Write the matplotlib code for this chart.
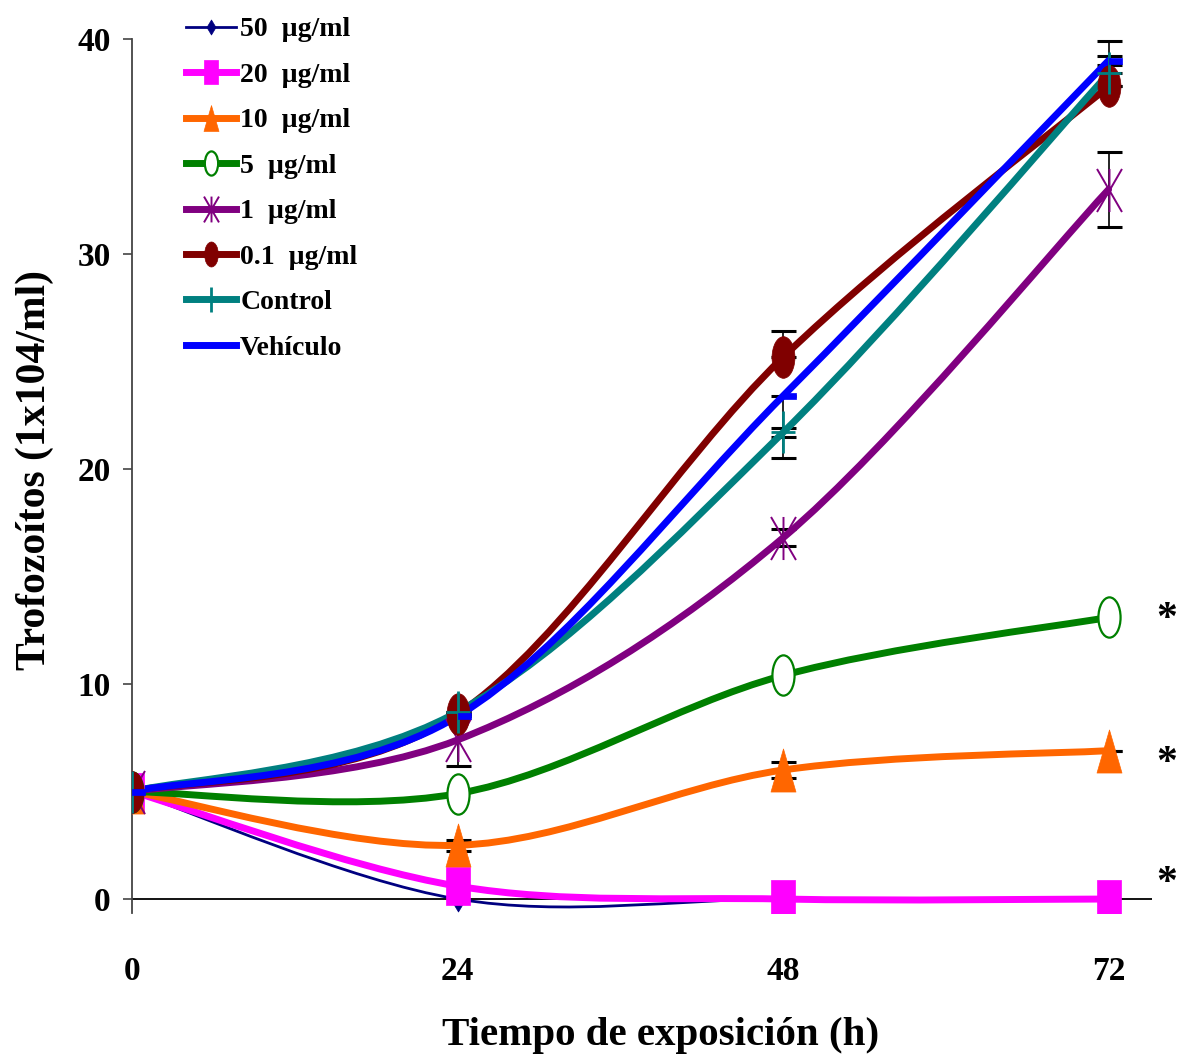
import numpy as np
import matplotlib
matplotlib.use("Agg")
import matplotlib.pyplot as plt
from matplotlib.path import Path
from matplotlib.patches import PathPatch
from matplotlib.lines import Line2D
from matplotlib.transforms import Affine2D

plt.rcParams['font.family'] = ['Liberation Serif', 'DejaVu Serif']
plt.rcParams['font.weight'] = 'bold'

# data
hours = [0, 24, 48, 72]
labels = ['50  µg/ml', '20  µg/ml', '10  µg/ml', '5  µg/ml', '1  µg/ml',
          '0.1  µg/ml', 'Control', 'Vehículo']
c50 = [5.0, 0.0, 0.0, 0.0]
c20 = [5.0, 0.6, 0.0, 0.0]
c10 = [5.0, 2.5, 6.0, 6.9]
c5 = [5.0, 4.9, 10.4, 13.1]
c1 = [5.0, 7.4, 16.8, 33.0]
c01 = [5.0, 8.6, 25.2, 37.8]
control = [5.0, 8.7, 21.7, 38.4]
vehiculo = [5.0, 8.5, 23.4, 39.0]
# error bars that can be seen: (lower, upper)
e50 = ([0, 0, 0, 0], [0, 0, 0, 0])
e20 = ([0, 0, 0, 0], [0, 0, 0, 0])
e10 = ([0, 0.25, 0.35, 0], [0, 0.25, 0.35, 0])
e5 = ([0, 0, 0, 0], [0, 0, 0, 0])
e1 = ([0, 1.2, 0.4, 1.75], [0, 1.2, 0.4, 1.75])
e01 = ([0, 0, 0, 0], [0, 0, 1.2, 0])
econtrol = ([0, 0, 0.2, 0], [0, 0, 0.2, 1.5])
evehiculo = ([0, 0, 2.9, 0.2], [0, 0, 0, 0.2])
star_y = [13.0, 6.3, 0.7]

series = [c50, c20, c10, c5, c1, c01, control, vehiculo]
errors = [e50, e20, e10, e5, e1, e01, econtrol, evehiculo]
colors = ['#000080', '#FF00FF', '#FF6600', '#008000', '#800080', '#800000',
          '#008080', '#0000FF']
widths = [2.0, 5, 5, 5, 5, 5, 5, 5]


# marker shapes (tall, like the stretched Excel markers)
def poly(pts):
    pts = list(pts) + [pts[0]]
    codes = [Path.MOVETO] + [Path.LINETO] * (len(pts) - 2) + [Path.CLOSEPOLY]
    return Path(pts, codes)


ellipse = Path.unit_circle().transformed(Affine2D().scale(0.55, 1.0))
diamond = poly([(0, 1), (0.6, 0), (0, -1), (-0.6, 0)])
square = poly([(-0.62, -1), (0.62, -1), (0.62, 1), (-0.62, 1)])
triangle = poly([(0, 1), (0.58, -1), (-0.58, -1)])
star = Path([(0, -1), (0, 1), (-0.58, -1), (0.58, 1), (-0.58, 1), (0.58, -1)],
            [Path.MOVETO, Path.LINETO] * 3)
plus = Path([(-0.6, 0), (0.6, 0), (0, -1), (0, 1)], [Path.MOVETO, Path.LINETO] * 2)
dash = poly([(0, -0.23), (1, -0.23), (1, 0.23), (0, 0.23)])

mstyles = [
    dict(marker=diamond, ms=18, mfc='#000080', mec='#000080', mew=0.5),
    dict(marker=square, ms=28, mfc='#FF00FF', mec='#FF00FF', mew=0.5),
    dict(marker=triangle, ms=31, mfc='#FF6600', mec='#FF6600', mew=0.5),
    dict(marker=ellipse, ms=29, mfc='white', mec='#008000', mew=1.6),
    dict(marker=star, ms=31, mfc='none', mec='#800080', mew=1.4),
    dict(marker=ellipse, ms=30, mfc='#800000', mec='#800000', mew=0.5),
    dict(marker=plus, ms=30, mfc='none', mec='#008080', mew=2.0),
    dict(marker=dash, ms=19, mfc='#0000FF', mec='#0000FF', mew=0.5),
]


def smooth_path(x, y):
    # Bezier curve through the points (Excel style smoothed line)
    p = np.column_stack([x, y]).astype(float)
    ext = np.vstack([p[0], p, p[-1]])
    verts = [p[0]]
    codes = [Path.MOVETO]
    for i in range(len(p) - 1):
        a, b, c, d = ext[i], ext[i + 1], ext[i + 2], ext[i + 3]
        verts += [b + (c - a) / 6, c - (d - b) / 6, c]
        codes += [Path.CURVE4] * 3
    return Path(verts, codes)


fig = plt.figure(figsize=(11.78, 10.58), dpi=100)
ax = fig.add_axes([132 / 1178, 145 / 1058, 1020 / 1178, 874 / 1058])
ax.set_xlim(0, 75.2)
ax.set_ylim(-0.65, 40)

ax.axhline(0, color='black', lw=1.3, zorder=1)

handles = []
for vals, err, col, lw, ms, lab in zip(series, errors, colors, widths, mstyles, labels):
    if max(err[0] + err[1]) > 0:
        ax.errorbar(hours, vals, yerr=[err[0], err[1]], fmt='none', ecolor='black',
                    elinewidth=1.2, capsize=9, capthick=2.2, zorder=1.5)
    ax.add_patch(PathPatch(smooth_path(hours, vals), fill=False, edgecolor=col,
                           lw=lw, capstyle='round', joinstyle='round', zorder=2))
    ax.plot(hours, vals, linestyle='none', zorder=3, **ms)
    handles.append(Line2D([], [], color=col, lw=lw, label=lab, **ms))

for yv in star_y:
    ax.text(76.3, yv, '*', fontsize=30, ha='center', va='center', clip_on=False)

ax.spines['top'].set_visible(False)
ax.spines['right'].set_visible(False)
ax.spines['bottom'].set_visible(False)
ax.spines['left'].set_color('#444444')
ax.spines['left'].set_linewidth(1.3)

ax.set_xticks(hours)
ax.set_yticks([0, 10, 20, 30, 40])
ax.tick_params(axis='x', length=0, pad=31, labelsize=24)
ax.tick_params(axis='y', length=6.5, width=1.2, color='#444444', pad=9, labelsize=24)

ax.set_xlabel('Tiempo de exposición (h)', fontsize=29.5, fontweight='bold')
ax.set_ylabel('Trofozoítos (1x104/ml)', fontsize=30, fontweight='bold')
ax.xaxis.set_label_coords(0.518, -0.14)
ax.xaxis.label.set_va('center')
ax.yaxis.set_label_coords(-0.095, 0.507)
ax.yaxis.label.set_va('center')

fig.legend(handles=handles, loc='upper left', bbox_to_anchor=(186 / 1178, 1 - 17 / 1058),
           frameon=False, fontsize=20, handlelength=1.8, handletextpad=0.15,
           labelspacing=0.72, borderpad=0, borderaxespad=0, markerscale=0.6)

fig.savefig('out.png', dpi=100)
